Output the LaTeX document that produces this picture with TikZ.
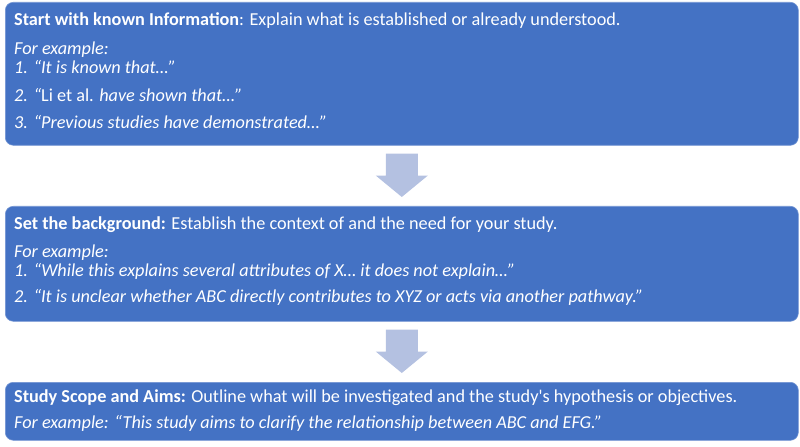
\documentclass[tikz,border=0pt]{standalone}
\usepackage{fontspec}
\setmainfont{Carlito}
\usetikzlibrary{positioning,calc}
\definecolor{boxblue}{HTML}{4472C4}
\definecolor{arrowblue}{HTML}{B4C1E1}

\tikzset{
  stagebox/.style={draw=boxblue!75!white, line width=0.6bp, fill=boxblue,
    rounded corners=8bp, anchor=north west, inner sep=0pt, minimum width=793bp},
  txt/.style={anchor=base west, inner sep=0pt, text=white,
    font=\fontsize{18.3}{21}\selectfont},
  flowarrow/.style={fill=arrowblue, draw=none},
}

\begin{document}
\begin{tikzpicture}[x=1bp, y=-1bp]
	\useasboundingbox (0,0) rectangle (800,447);

	% the three stages
	\node[stagebox, minimum height=143bp] (known) at (5,2) {};
	\node[stagebox, minimum height=115bp] (background) at (5,206) {};
	\node[stagebox, minimum height=58bp] (aims) at (5,382) {};

	% block arrows between the stages
	\foreach \from/\to in {known/background, background/aims}{
		\fill[flowarrow] ($(\from.south)+(-16,8)$) -- ++(32,0) -- ++(0,22) -- ++(10,0)
			-- ($(\to.north)+(0,-9)$) -- ($(\from.south)+(-26,30)$) -- ++(10,0) -- cycle;
	}

	% texts of the first stage
	\node[txt] (known1) at (14,26) {\textbf{Start with known Information}: Explain what is established or already understood.};
	\node[txt] (known2) at (14,55) {\textit{For example:}};
	\node[txt] (known3) at (14,74) {\textit{1. “It is known that…”}};
	\node[txt] (known4) at (14,102) {\textit{2. “}Li et al. \textit{have shown that…”}};
	\node[txt] (known5) at (14,129) {\textit{3. “Previous studies have demonstrated…”}};

	% texts of the second stage
	\node[txt] (background1) at (14,230) {\textbf{Set the background:} Establish the context of and the need for your study.};
	\node[txt] (background2) at (14,258) {\textit{For example:}};
	\node[txt] (background3) at (14,277) {\textit{1. “While this explains several attributes of X… it does not explain…”}};
	\node[txt] (background4) at (14,303) {\textit{2. “It is unclear whether ABC directly contributes to XYZ or acts via another pathway.”}};

	% texts of the third stage
	\node[txt] (aims1) at (14,402) {\textbf{Study Scope and Aims:} Outline what will be investigated and the study\textquotesingle s hypothesis or objectives.};
	\node[txt] (aims2) at (14,428) {\textit{For example: “This study aims to clarify the relationship between ABC and EFG.”}};
\end{tikzpicture}
\end{document}
